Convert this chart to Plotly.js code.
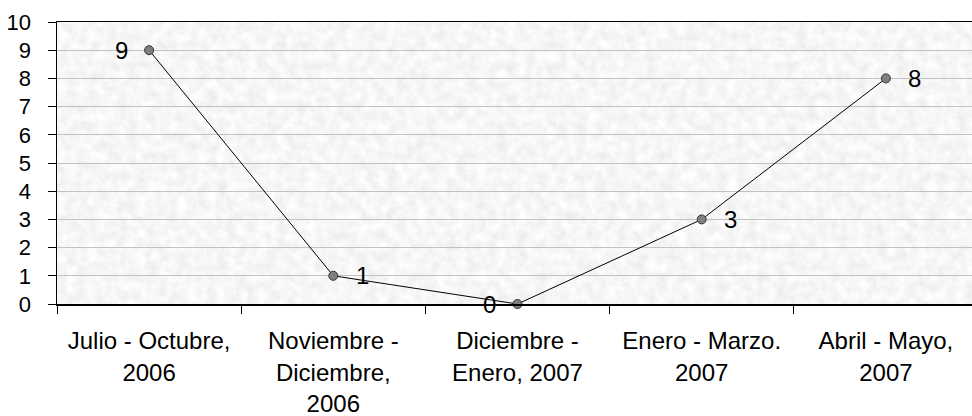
<!DOCTYPE html>
<html>
<head>
<meta charset="utf-8">
<script src="https://cdn.plot.ly/plotly-3.0.1.min.js"></script>
<style>
html,body{margin:0;padding:0;overflow:hidden;background:#fff;width:972px;height:416px;}
#chart{width:990px;height:416px;}
</style>
</head>
<body>
<div id="chart"></div>
<script>
const categories = [
  "Julio - Octubre,<br>2006",
  "Noviembre -<br>Diciembre,<br>2006",
  "Diciembre -<br>Enero, 2007",
  "Enero - Marzo.<br>2007",
  "Abril - Mayo,<br>2007"
];
const values = [9, 1, 0, 3, 8];
const labelSides = ["left", "right", "left", "right", "right"];
const yTicks = [0,1,2,3,4,5,6,7,8,9,10];

const texture = 'data:image/svg+xml;utf8,' + encodeURIComponent(
  '<svg xmlns="http://www.w3.org/2000/svg" width="921" height="282" viewBox="0 0 921 282" preserveAspectRatio="none">' +
  '<filter id="f" x="0" y="0" width="100%" height="100%">' +
  '<feTurbulence type="fractalNoise" baseFrequency="0.1" numOctaves="4" seed="3"/>' +
  '<feColorMatrix type="matrix" values="0.24 0 0 0 0.805  0.24 0 0 0 0.805  0.24 0 0 0 0.805  0 0 0 0 1"/>' +
  '</filter>' +
  '<rect width="921" height="282" filter="url(#f)"/>' +
  '</svg>');

const annotations = categories.map((c, i) => ({
  x: c, y: values[i], xref: 'x', yref: 'y',
  text: String(values[i]), showarrow: false,
  xanchor: 'center', yanchor: 'middle',
  xshift: labelSides[i] === 'left' ? -28 : 29,
  font: {family: 'Liberation Sans, Arial, sans-serif', size: 24, color: '#000'}
}));

const trace = {
  type: 'scatter', mode: 'lines+markers',
  x: categories, y: values,
  line: {color: '#000', width: 1},
  marker: {size: 9, color: '#808080', line: {color: '#333', width: 1}},
  cliponaxis: false,
  hoverinfo: 'skip'
};

const layout = {
  width: 990, height: 416,
  margin: {l: 57, r: 12, t: 22, b: 112},
  paper_bgcolor: '#ffffff',
  plot_bgcolor: 'rgba(0,0,0,0)',
  showlegend: false,
  font: {family: 'Liberation Sans, Arial, sans-serif', color: '#000'},
  images: [{
    source: texture, xref: 'paper', yref: 'paper',
    x: 0, y: 1, sizex: 1, sizey: 1, sizing: 'stretch',
    xanchor: 'left', yanchor: 'top', layer: 'below'
  }],
  xaxis: {
    type: 'category', range: [-0.5, 4.5],
    showgrid: false, zeroline: false,
    showline: true, linecolor: '#000', linewidth: 1.5, mirror: true,
    ticks: 'outside', tickson: 'boundaries', ticklen: 8, tickcolor: '#000', tickwidth: 1,
    ticklabelstandoff: 15,
    tickfont: {size: 24, color: '#000'}
  },
  yaxis: {
    range: [0, 10], tickvals: yTicks, ticktext: yTicks.map(String),
    showgrid: true, gridcolor: '#c2c2c2', gridwidth: 1,
    zeroline: false,
    showline: true, linecolor: '#000', linewidth: 1.5, mirror: true,
    ticks: 'outside', ticklen: 8, tickcolor: '#000', tickwidth: 1,
    ticklabelstandoff: 12,
    tickfont: {size: 22, color: '#000'}
  },
  annotations: annotations
};

Plotly.newPlot('chart', [trace], layout, {staticPlot: true, displayModeBar: false});
</script>
</body>
</html>
